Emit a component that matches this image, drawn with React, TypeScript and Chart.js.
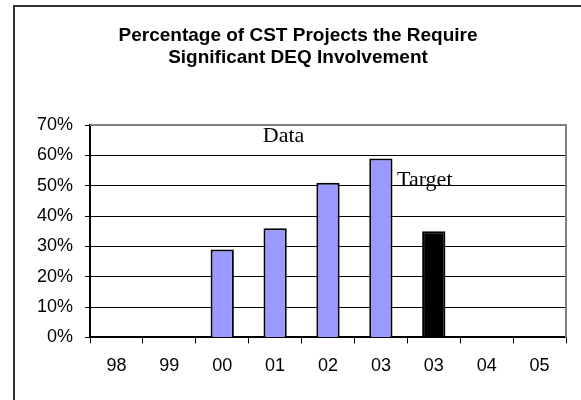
import React, { useEffect, useRef } from "react";
import { Chart, registerables } from "chart.js";

Chart.register(...registerables);

const categories = ["98", "99", "00", "01", "02", "03", "03", "04", "05"];
const values: (number | null)[] = [null, null, 29, 36, 51, 59, 35, null, null];
const barColors = ["#9999FF", "#9999FF", "#9999FF", "#9999FF", "#9999FF", "#9999FF", "#000000", "#9999FF", "#9999FF"];
const yTicks = [0, 10, 20, 30, 40, 50, 60, 70];
const titleLines = ["Percentage of CST Projects the Require", "Significant DEQ Involvement"];
const noteLabels = [
  { text: "Data", fx: 0.363, fy: 0.08 },
  { text: "Target", fx: 0.645, fy: 0.285 },
];

const framePlugin = {
  id: "plotFrame",
  afterDraw(chart: any) {
    const { ctx, chartArea } = chart;
    ctx.save();
    ctx.strokeStyle = "#808080";
    ctx.lineWidth = 2;
    ctx.beginPath();
    ctx.moveTo(chartArea.left, chartArea.top);
    ctx.lineTo(chartArea.right, chartArea.top);
    ctx.lineTo(chartArea.right, chartArea.bottom);
    ctx.stroke();
    ctx.fillStyle = "#000";
    ctx.font = "22px 'Liberation Serif', 'Times New Roman', serif";
    ctx.textBaseline = "alphabetic";
    ctx.textAlign = "left";
    const w = chartArea.right - chartArea.left;
    const h = chartArea.bottom - chartArea.top;
    noteLabels.forEach((n) => {
      ctx.fillText(n.text, chartArea.left + n.fx * w, chartArea.top + n.fy * h);
    });
    ctx.restore();
  },
};

export default function App() {
  const ref = useRef<HTMLCanvasElement>(null);
  useEffect(() => {
    if (!ref.current) return;
    const chart = new Chart(ref.current, {
      type: "bar",
      data: {
        labels: categories,
        datasets: [
          {
            data: values,
            backgroundColor: barColors,
            borderColor: "#000000",
            borderWidth: 2,
            barPercentage: 0.44,
            categoryPercentage: 1,
          },
        ],
      },
      options: {
        animation: false,
        responsive: false,
        layout: { padding: { left: 30, right: 15, top: 0, bottom: 11 } },
        plugins: {
          legend: { display: false },
          tooltip: { enabled: false },
          title: {
            display: true,
            text: titleLines,
            color: "#000",
            font: { family: "'Liberation Sans', Arial, sans-serif", size: 19, weight: "bold", lineHeight: 1.16 },
            padding: { top: 25, bottom: 56 },
          },
        },
        scales: {
          x: {
            grid: { offset: true, drawOnChartArea: false, drawTicks: true, tickLength: 6, color: "#000", lineWidth: 1 },
            border: { color: "#000", width: 2 },
            ticks: {
              color: "#000",
              padding: 12,
              font: { family: "'Liberation Sans', Arial, sans-serif", size: 18 },
              maxRotation: 0,
              autoSkip: false,
            },
          },
          y: {
            min: 0,
            max: 70,
            afterFit(scale: any) {
              scale.width = 60;
            },
            afterBuildTicks(scale: any) {
              scale.ticks = yTicks.map((v) => ({ value: v }));
            },
            grid: { color: "#000", lineWidth: 1, tickLength: 5 },
            border: { color: "#000", width: 2 },
            ticks: {
              color: "#000",
              padding: 12,
              font: { family: "'Liberation Sans', Arial, sans-serif", size: 18 },
              callback: (v: any) => v + "%",
            },
          },
        },
      },
      plugins: [framePlugin],
    });
    return () => chart.destroy();
  }, []);
  return (
    <div style={{ position: "fixed", left: 0, top: 0, width: 581, height: 400, overflow: "hidden", background: "#fff" }}>
      <div
        style={{
          position: "absolute",
          left: 13,
          top: 5,
          width: 700,
          height: 500,
          borderLeft: "2px solid #333",
          borderTop: "2px solid #333",
        }}
      />
      <canvas ref={ref} width={581} height={400} style={{ position: "absolute", left: 0, top: 0 }} />
    </div>
  );
}
